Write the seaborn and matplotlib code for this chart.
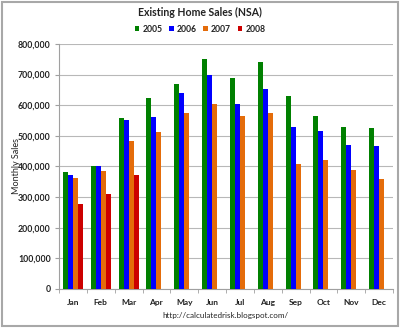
import numpy as np
import pandas as pd
import matplotlib
matplotlib.use("Agg")
import matplotlib.pyplot as plt
import seaborn as sns
from matplotlib.ticker import FuncFormatter, FixedLocator
from matplotlib.patches import Rectangle

months = ["Jan", "Feb", "Mar", "Apr", "May", "Jun", "Jul", "Aug", "Sep", "Oct", "Nov", "Dec"]
sales_2005 = [382000, 400000, 557000, 625000, 668000, 752000, 690000, 741000, 630000, 565000, 530000, 527000]
sales_2006 = [373000, 400000, 553000, 560000, 640000, 700000, 604000, 653000, 530000, 515000, 470000, 466000]
sales_2007 = [361000, 385000, 484000, 512000, 575000, 604000, 566000, 574000, 409000, 420000, 387000, 359000]
sales_2008 = [276000, 310000, 372000]
years = ["2005", "2006", "2007", "2008"]
colors = ["#008000", "#0000FF", "#E46C0A", "#CC0000"]

rows = []
for yr, vals in zip(years, [sales_2005, sales_2006, sales_2007, sales_2008]):
    for m, v in zip(months, vals):
        rows.append({"month": m, "year": yr, "sales": v})
df = pd.DataFrame(rows)

sns.set_style("white")
plt.rcParams["font.family"] = ["Lato", "DejaVu Sans"]

fig = plt.figure(figsize=(4.0, 3.28), dpi=100)
ax = fig.add_axes([0.1475, 0.119, 0.835, 0.747])

sns.barplot(data=df, x="month", y="sales", hue="year", order=months,
            hue_order=years, palette=colors, width=0.72, gap=0,
            saturation=1, errorbar=None, ax=ax, linewidth=0, zorder=3)

ax.set_ylim(0, 800000)
ax.set_xlim(-0.5, 11.5)
ax.yaxis.set_major_locator(FixedLocator(np.arange(0, 800001, 100000)))
ax.yaxis.set_major_formatter(FuncFormatter(lambda v, p: f"{int(v):,}"))
ax.grid(axis="y", color="#B8B8B8", linewidth=0.8, zorder=0)
ax.set_axisbelow(True)

for s in ["top", "right"]:
    ax.spines[s].set_visible(False)
for s in ["left", "bottom"]:
    ax.spines[s].set_color("#A0A0A0")
    ax.spines[s].set_linewidth(0.8)

ax.tick_params(axis="y", which="major", left=True, length=3, color="#A0A0A0",
               labelsize=6.3, pad=3)
ax.tick_params(axis="x", which="major", bottom=False, labelsize=6, pad=4)
ax.set_xticks(np.arange(-0.5, 12, 1), minor=True)
ax.tick_params(axis="x", which="minor", bottom=True, length=3, color="#A0A0A0")
for lab in ax.get_yticklabels() + ax.get_xticklabels():
    lab.set_fontweight("bold")
    lab.set_color("#222222")

ax.set_xlabel("")
ax.set_ylabel("Monthly Sales", fontsize=6.5, color="#222222")
ax.yaxis.set_label_coords(-0.115, 0.5)

leg = ax.legend(loc="center", bbox_to_anchor=(0.5, 0.911), bbox_transform=fig.transFigure,
                ncol=4, frameon=False, fontsize=6.2, handlelength=0.55, handleheight=0.55,
                handletextpad=0.35, columnspacing=0.75, borderpad=0)
for t in leg.get_texts():
    t.set_fontweight("bold")
    t.set_color("#222222")

fig.text(0.5, 0.962, "Existing Home Sales (NSA)", ha="center", va="center",
         fontsize=7.6, fontweight="bold", color="#222222")
fig.text(0.563, 0.038, "http://calculatedrisk.blogspot.com/", ha="center", va="center",
         fontsize=5.8, color="#222222")

fig.patches.append(Rectangle((0.004, 0.005), 0.992, 0.99, transform=fig.transFigure,
                             fill=False, edgecolor="#A8A8A8", linewidth=1.5))

fig.savefig("out.png", dpi=100)
